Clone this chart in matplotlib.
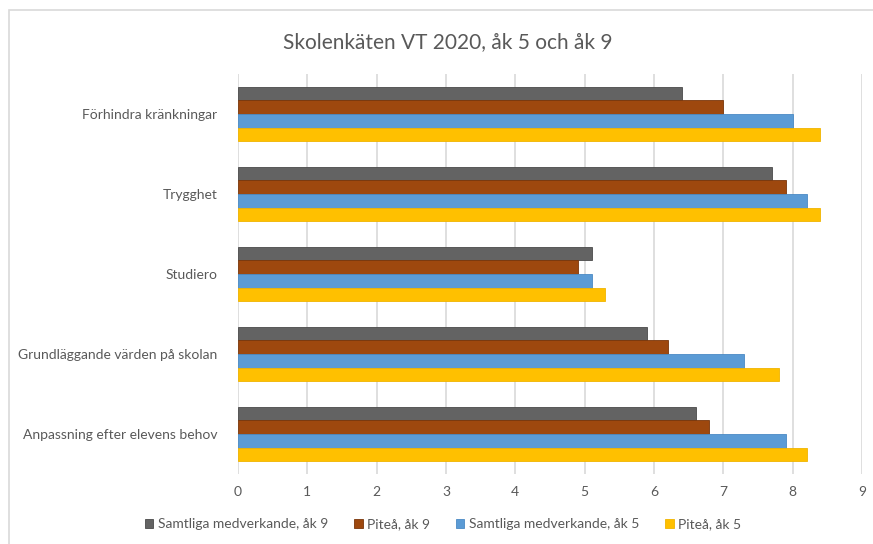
import matplotlib.pyplot as plt
import numpy as np
from matplotlib.patches import Rectangle

plt.rcParams['font.family'] = ['Lato', 'DejaVu Sans']

categories = ["Förhindra kränkningar", "Trygghet", "Studiero",
              "Grundläggande värden på skolan", "Anpassning efter elevens behov"]

series_names = ["Samtliga medverkande, åk 9", "Piteå, åk 9",
                "Samtliga medverkande, åk 5", "Piteå, åk 5"]

samtliga_ak9 = [6.4, 7.7, 5.1, 5.9, 6.6]
pitea_ak9 = [7.0, 7.9, 4.9, 6.2, 6.8]
samtliga_ak5 = [8.0, 8.2, 5.1, 7.3, 7.9]
pitea_ak5 = [8.4, 8.4, 5.3, 7.8, 8.2]

colors = ['#636363', '#9E480E', '#5B9BD5', '#FFC000']
edges = ['#4a4a4a', '#7a360a', '#4a8ac4', '#f0b400']
text_col = '#595959'

fig = plt.figure(figsize=(8.73, 5.44), dpi=100)
ax = fig.add_axes([238/873, 1-474/544, (862-238)/873, 400/544])

# chart frame
fig.patches.append(Rectangle((8.5/873, -0.1), 1.2, 1-10.5/544+0.1, transform=fig.transFigure,
                             fill=False, edgecolor='#d9d9d9', linewidth=1.2))

y = np.arange(len(categories))
h = 0.169
data = [samtliga_ak9, pitea_ak9, samtliga_ak5, pitea_ak5]
for i, vals in enumerate(data):
    off = (i - 1.5) * h
    ax.barh(y + off, vals, height=h, color=colors[i], edgecolor=edges[i],
            linewidth=0.6, label=series_names[i], zorder=3)

ax.set_xlim(0, 9)
ax.set_ylim(4.5, -0.5)
ax.set_xticks(range(0, 10))
ax.set_yticks(y)
ax.set_yticklabels(categories)
ax.tick_params(axis='both', length=0, colors=text_col, labelsize=10)
ax.tick_params(axis='y', pad=15)
ax.tick_params(axis='x', pad=9)
ax.grid(axis='x', color='#d9d9d9', linewidth=1.2, zorder=0)
for s in ax.spines.values():
    s.set_visible(False)

fig.text(448/873, 1-42/544, "Skolenkäten VT 2020, åk 5 och åk 9", ha='center', va='center',
         fontsize=15, color=text_col)

fig.legend(loc='center', bbox_to_anchor=(443/873, 1-524/544), ncol=4, frameon=False,
           fontsize=10, handlelength=0.6, handleheight=0.6, handletextpad=0.3,
           columnspacing=1.9, labelcolor=text_col)

fig.savefig('out.png', dpi=100)
